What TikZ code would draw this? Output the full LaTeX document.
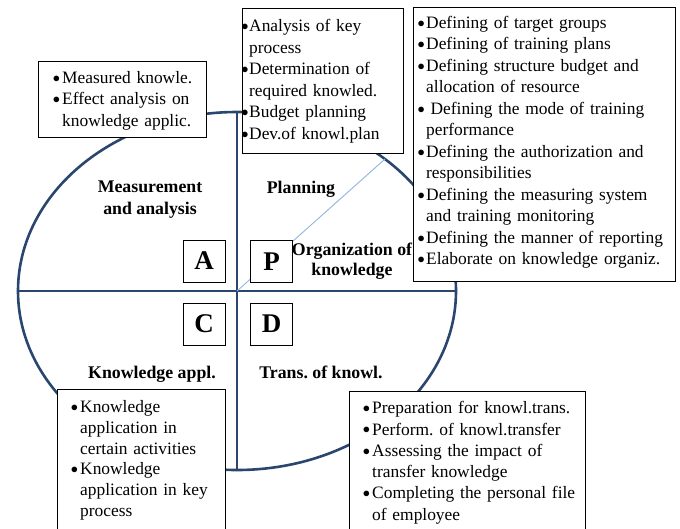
\documentclass[tikz,border=0pt]{standalone}
\usepackage{fontspec}
\setmainfont{Liberation Serif}
\frenchspacing
\definecolor{ring}{RGB}{42,70,110}
\definecolor{diag}{RGB}{143,180,224}
\newcommand\bfont{\fontsize{17.4}{21.5}\selectfont}
\newcommand\lfont{\fontsize{17.8}{22}\selectfont\bfseries}
\newcommand\bul[1]{\makebox[0pt][r]{\raisebox{1.2pt}{\fontsize{15}{15}\selectfont$\bullet$}\hspace{#1pt}}}
\begin{document}
\begin{tikzpicture}[x=1pt,y=-1pt,
  box/.style={draw=black, line width=0.75pt, fill=white, anchor=north west, inner sep=0pt},
  txt/.style={anchor=north west, inner sep=0pt, text width=262pt, align=left, font=\bfont},
  lbl/.style={inner sep=0pt, align=center, font=\lfont, anchor=north},
  letter/.style={draw=black, line width=0.75pt, fill=white, minimum width=42pt, minimum height=42pt, inner sep=0pt, font=\fontsize{27}{27}\selectfont\bfseries},
  ringline/.style={draw=ring, line width=2.6pt},
  diagline/.style={draw=diag, line width=0.9pt}]
\useasboundingbox (0,0) rectangle (680,528);
% circle and cross
\coordinate (O) at (237,291);
\coordinate (T) at (237,112);
\coordinate (B) at (237,470);
\coordinate (L) at (18,291);
\coordinate (R) at (456,291);
\coordinate (E) at (385,159);
\draw[ringline] (O) ellipse [x radius=219pt, y radius=179pt];
\draw[ringline] (T) -- (B);
\draw[ringline] (L) -- (R);
\draw[diagline] (O) -- (E);
% boxes
\node[box, minimum width=168pt, minimum height=76pt] (bTL) at (38,61) {};
\node[box, minimum width=161pt, minimum height=145pt] (bPL) at (242,8) {};
\node[box, minimum width=262pt, minimum height=274pt] (bOR) at (413,7) {};
\node[box, minimum width=168pt, minimum height=160pt] (bKA) at (57,389) {};
\node[box, minimum width=236pt, minimum height=160pt] (bTR) at (349,391) {};
% box texts
\node[txt] (tTL) at (62,67.95) {\strut\bul{2.2}Measured knowle.\\
  \bul{2.2}Effect analysis on\\ knowledge applic.};
\node[txt] (tPL) at (249,16.45) {\strut\bul{0.6}Analysis of key\\ process\\
  \bul{0.6}Determination of\\ required knowled.\\
  \bul{0.6}Budget planning\\
  \bul{0.6}Dev.of knowl.plan};
\node[txt] (tOR) at (426,12.95) {\strut\bul{1.4}Defining of target groups\\
  \bul{1.4}Defining of training plans\\
  \bul{1.4}Defining structure budget and\\ allocation of resource\\
  \bul{1.4}\hspace{4.4pt}Defining the mode of training\\ performance\\
  \bul{1.4}Defining the authorization and\\ responsibilities\\
  \bul{1.4}Defining the measuring system\\ and training monitoring\\
  \bul{1.4}Defining the manner of reporting\\
  \bul{1.4}Elaborate on knowledge organiz.};
\node[txt, font=\fontsize{17.4}{20.7}\selectfont] (tKA) at (80,398) {\strut\bul{2.2}Knowledge\\ application in\\ certain activities\\
  \bul{2.2}Knowledge\\ application in key\\ process};
\node[txt, font=\fontsize{17.4}{21.3}\selectfont] (tTR) at (372,398.6) {\strut\bul{2.2}Preparation for knowl.trans.\\
  \bul{2.2}Perform. of knowl.transfer\\
  \bul{2.2}Assessing the impact of\\ transfer knowledge\\
  \bul{2.2}Completing the personal file\\ of employee};
% quadrant labels
\node[lbl] (lM) at (150,176.6) {\strut Measurement\\and analysis};
\node[lbl] (lP) at (301,177.6) {\strut Planning};
\node[lbl, font=\fontsize{17.8}{20}\selectfont\bfseries] (lO) at (352,241) {\strut Organization of\\knowledge};
\node[lbl] (lK) at (152,362.6) {\strut Knowledge appl.};
\node[lbl] (lT) at (321,362.6) {\strut Trans. of knowl.};
% letters
\node[letter] (A) at (204,261) {A};
\node[letter] (P) at (271.5,261.5) {P};
\node[letter] (C) at (204,324) {C};
\node[letter] (D) at (271.5,324) {D};
\end{tikzpicture}
\end{document}
